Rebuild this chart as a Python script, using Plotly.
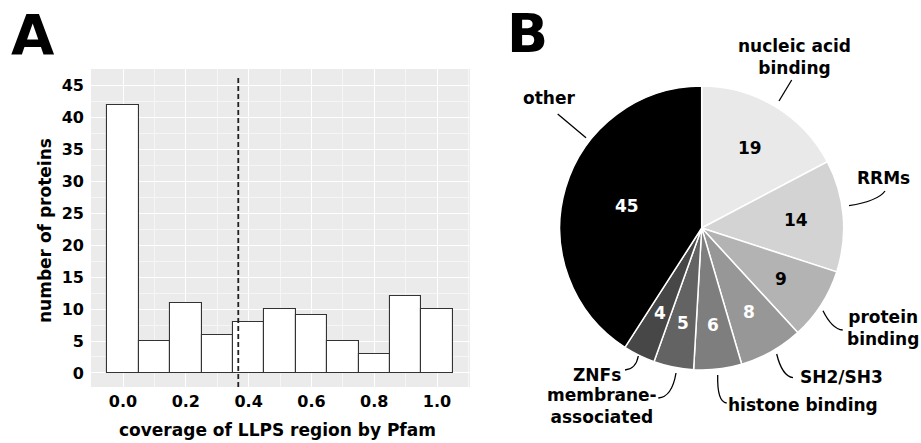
import math
import plotly.graph_objects as go

# ---------------- data ----------------
bin_centers = [0.0, 0.1, 0.2, 0.3, 0.4, 0.5, 0.6, 0.7, 0.8, 0.9, 1.0]
bin_counts = [42, 5, 11, 6, 8, 10, 9, 5, 3, 12, 10]
bin_width = 0.1
threshold = 0.367

y_ticks = [0, 5, 10, 15, 20, 25, 30, 35, 40, 45]
x_ticks = [0.0, 0.2, 0.4, 0.6, 0.8, 1.0]
x_tick_labels = ["0.0", "0.2", "0.4", "0.6", "0.8", "1.0"]

pie_labels = ["nucleic acid binding", "RRMs", "protein binding", "SH2/SH3",
              "histone binding", "membrane-associated", "ZNFs", "other"]
pie_values = [19, 14, 9, 8, 6, 5, 4, 45]
pie_colors = ["#e9e9e9", "#d3d3d3", "#b3b3b3", "#979797",
              "#7e7e7e", "#636363", "#474747", "#000000"]
pie_text_colors = ["black", "black", "black", "white",
                   "white", "white", "white", "white"]
pie_text_dist = [0.66, 0.67, 0.66, 0.68, 0.69, 0.68, 0.67, 0.55]

W, H = 921, 443
FONT = "DejaVu Sans"

# pie geometry (pixels)
PCX, PCY, PR = 701.7, 228.0, 142.0


def px(x):
    return x / W


def py(y):
    return 1 - y / H


fig = go.Figure()

# ---------------- panel A: histogram ----------------
fig.add_trace(go.Bar(
    x=bin_centers, y=bin_counts, width=bin_width,
    marker=dict(color="white", line=dict(color="#333333", width=1.1)),
    xaxis="x", yaxis="y", showlegend=False, hoverinfo="x+y",
))

fig.add_shape(type="line", xref="x", yref="y domain",
              x0=threshold, x1=threshold, y0=0, y1=0.978,
              line=dict(color="#222222", width=1.8, dash="5px,3px"))

# ---------------- panel B: pie ----------------
fig.add_trace(go.Pie(
    labels=pie_labels, values=pie_values, sort=False, direction="clockwise",
    rotation=0,
    marker=dict(colors=pie_colors, line=dict(color="white", width=1.5)),
    textinfo="none",
    domain=dict(x=[px(PCX - PR), px(PCX + PR)],
                y=[py(PCY + PR), py(PCY - PR)]),
    showlegend=False, hoverinfo="label+value",
))

annotations = []
# slice value labels, placed at each slice's mid-angle
total = sum(pie_values)
cum = 0
for v, col, d in zip(pie_values, pie_text_colors, pie_text_dist):
    mid = (cum + v / 2) / total * 2 * math.pi
    cum += v
    tx = PCX + d * PR * math.sin(mid)
    ty = PCY - d * PR * math.cos(mid)
    annotations.append(dict(
        text=f"<b>{v}</b>", x=px(tx), y=py(ty), xref="paper", yref="paper",
        showarrow=False, xanchor="center", yanchor="middle",
        font=dict(family=FONT, size=17, color=col),
    ))

# outside labels (pixel positions) and leader lines
outside = [
    ("nucleic acid<br>binding", 794, 57),
    ("other", 549, 98),
    ("RRMs", 883, 178),
    ("protein<br>binding", 883, 328),
    ("SH2/SH3", 841, 377),
    ("histone binding", 803, 405),
    ("membrane-<br>associated", 602, 406),
    ("ZNFs", 597, 375),
]
for txt, x, y in outside:
    annotations.append(dict(
        text="<b>" + txt + "</b>", x=px(x), y=py(y), xref="paper", yref="paper",
        showarrow=False, xanchor="center", yanchor="middle", align="center",
        font=dict(family=FONT, size=17, color="black"),
    ))

leaders = [
    ((779, 101), None, (791.7, 80)),
    ((557.7, 114), None, (586, 137.7)),
    ((849, 205.7), (878, 201), (885, 191)),
    ((823, 310.7), (832, 329), (842.7, 330)),
    ((776.7, 354), (782, 376), (793, 377.7)),
    ((717.7, 375), (717, 402), (726.7, 403)),
    ((676, 373), (672, 397), (658.3, 398)),
    ((638.3, 356), (636, 369), (625, 370)),
]
for p0, c, p1 in leaders:
    if c is None:
        path = f"M {px(p0[0])},{py(p0[1])} L {px(p1[0])},{py(p1[1])}"
    else:
        path = (f"M {px(p0[0])},{py(p0[1])} Q {px(c[0])},{py(c[1])} "
                f"{px(p1[0])},{py(p1[1])}")
    fig.add_shape(type="path", xref="paper", yref="paper", path=path,
                  line=dict(color="black", width=1.3))

# panel letters and axis titles
annotations += [
    dict(text="<b>A</b>", x=px(33), y=1, xref="paper", yref="paper",
         showarrow=False, xanchor="center", yanchor="top",
         font=dict(family=FONT, size=56, color="black")),
    dict(text="<b>B</b>", x=px(527), y=1, xref="paper", yref="paper",
         showarrow=False, xanchor="center", yanchor="top",
         font=dict(family=FONT, size=54, color="black")),
    dict(text="<b>number of proteins</b>", x=px(45), y=py(231),
         xref="paper", yref="paper", showarrow=False, textangle=-90,
         xanchor="center", yanchor="middle",
         font=dict(family=FONT, size=17, color="black")),
    dict(text="<b>coverage of LLPS region by Pfam</b>", x=px(277), y=py(430),
         xref="paper", yref="paper", showarrow=False,
         xanchor="center", yanchor="middle",
         font=dict(family=FONT, size=17, color="black")),
]

fig.update_layout(
    width=W, height=H,
    margin=dict(l=0, r=0, t=0, b=0),
    paper_bgcolor="white", plot_bgcolor="#ebebeb",
    font=dict(family=FONT, color="black"),
    bargap=0,
    xaxis=dict(
        domain=[px(91), px(470)], range=[-0.102, 1.105],
        tickvals=x_ticks, ticktext=x_tick_labels,
        tickfont=dict(family=FONT, size=16, color="black", weight="bold"),
        showgrid=True, gridcolor="white", gridwidth=1.1,
        minor=dict(dtick=0.1, tick0=0, showgrid=True, gridcolor="#f6f6f6", gridwidth=0.6),
        zeroline=False, showline=False, ticks="", ticklabelstandoff=3,
        anchor="y", fixedrange=True,
    ),
    yaxis=dict(
        domain=[py(387), py(69)], range=[-2.2, 47.6],
        tickvals=y_ticks,
        tickfont=dict(family=FONT, size=16, color="black", weight="bold"),
        showgrid=True, gridcolor="white", gridwidth=1.1,
        minor=dict(dtick=2.5, tick0=0, showgrid=True, gridcolor="#f6f6f6", gridwidth=0.6),
        zeroline=False, showline=False, ticks="", ticklabelstandoff=6,
        anchor="x", fixedrange=True,
    ),
    annotations=annotations,
)

fig.write_html(
    "out.html",
    config={"displayModeBar": False},
    post_script="document.body.style.margin='0';document.body.style.overflow='hidden';",
)
